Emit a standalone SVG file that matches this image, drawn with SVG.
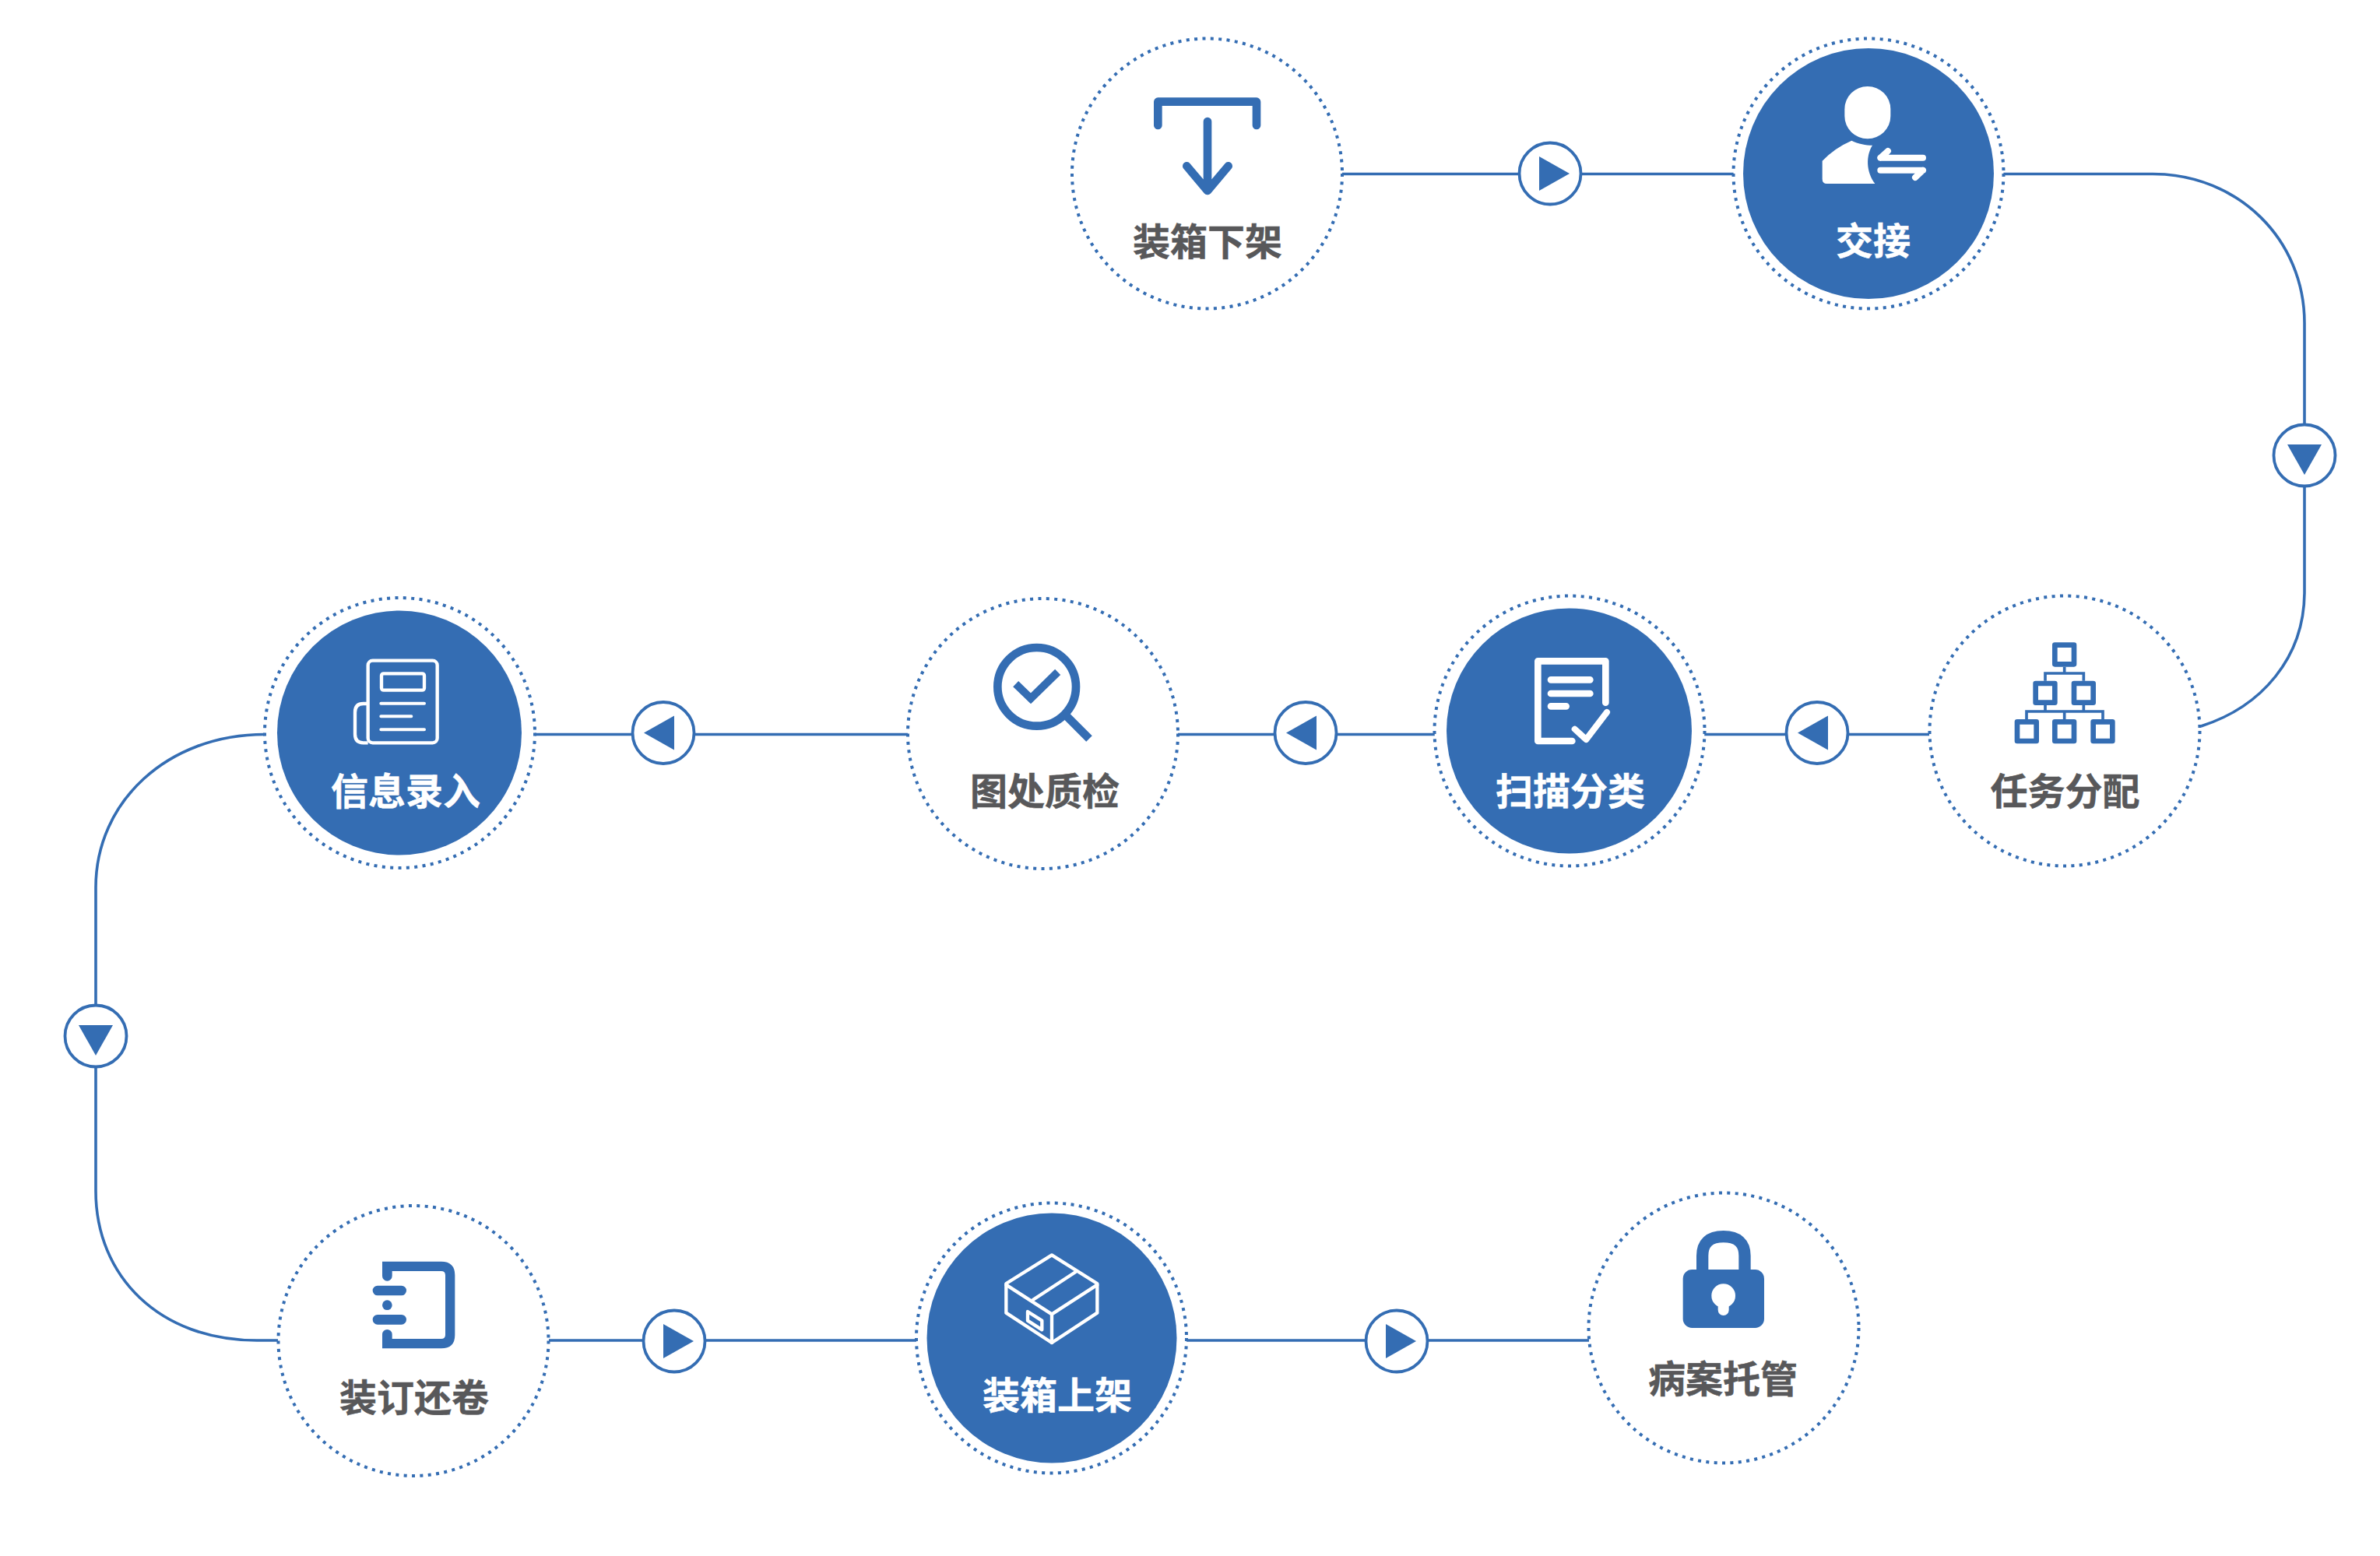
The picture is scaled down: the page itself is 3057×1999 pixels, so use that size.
<svg xmlns="http://www.w3.org/2000/svg" width="3057" height="1999" viewBox="0 0 3057 1999">
<style>
.ring{fill:#fff;stroke:#346db3;stroke-width:4;stroke-dasharray:4 6.4}
.disc{fill:#346db3}
.lbl{font-family:"Noto Sans CJK SC","Noto Sans",sans-serif;font-weight:700;font-size:48px;text-anchor:middle;fill:#58585a;stroke:#58585a;stroke-width:.5}
.lbl.w{fill:#fff;stroke:#fff}
.wire{fill:none;stroke:#346db3;stroke-width:3.6}
.ib{fill:none;stroke:#346db3}
.iw{fill:none;stroke:#fff}
.rnd{stroke-linecap:round;stroke-linejoin:round}
</style>
<defs>
<g id="btn"><circle r="39.5" fill="#fff" stroke="#346db3" stroke-width="3.8"/><path d="M-14,-22 L25,0 L-14,22 Z" fill="#346db3"/></g>
</defs>
<g id="connectors">
<path class="wire" d="M1724,223.500H2227"/>
<path class="wire" d="M2573,223.500H2765C2875,223.500 2960,308 2960,415V760C2960,845 2905,908 2827,933"/>
<path class="wire" d="M2478,943.500H2189"/>
<path class="wire" d="M1843,943.500H1513"/>
<path class="wire" d="M1166,943.500H687"/>
<path class="wire" d="M340,943.500C215,943.500 123,1030 123,1140V1530C123,1640 205,1722 330,1722H357"/>
<path class="wire" d="M705,1722H1177"/>
<path class="wire" d="M1524,1722H2041"/>
<use href="#btn" x="1991" y="223"/>
<use href="#btn" transform="translate(2960 585) rotate(90)"/>
<use href="#btn" transform="translate(2334 941.500) rotate(180)"/>
<use href="#btn" transform="translate(1677 941.500) rotate(180)"/>
<use href="#btn" transform="translate(852 941.500) rotate(180)"/>
<use href="#btn" transform="translate(123 1331) rotate(90)"/>
<use href="#btn" x="866" y="1723"/>
<use href="#btn" x="1794" y="1723"/>
</g>
<g id="n1">
<circle class="ring" cx="1550.500" cy="223" r="173.500"/>
<g transform="translate(1360 30) scale(.33333)">
<path class="ib rnd" stroke-width="32" d="M382,393V302H762V393"/>
<path class="ib rnd" stroke-width="32" d="M573,378V640M493,550L573,645L653,550"/>
</g>
<text class="lbl" x="1551" y="328">装箱下架</text>
</g>
<g id="n2">
<circle class="ring" cx="2400" cy="223" r="173.500"/>
<circle class="disc" cx="2400" cy="223" r="161"/>
<g transform="translate(2210 30) scale(.33333)">
<rect x="478" y="243" width="177" height="202" rx="88" fill="#fff"/>
<path fill="#fff" d="M505,452C530,465 560,470 585,470C560,510 560,570 595,618H410Q392,618 392,600V530Q440,480 505,452Z"/>
<path class="iw rnd" stroke-width="24" d="M616,518H780M616,518L645,492M780,566H616M780,566L750,594"/>
</g>
<text class="lbl w" x="2406" y="327">交接</text>
</g>
<g id="n3">
<circle class="ring" cx="2652" cy="939" r="173.500"/>
<g transform="translate(2460 750) scale(.33333)">
<g fill="none" stroke="#346db3" stroke-width="20" stroke-linejoin="round">
<rect x="538" y="236" width="74" height="74"/>
<rect x="464" y="384" width="74" height="74"/>
<rect x="612" y="384" width="74" height="74"/>
<rect x="393" y="532" width="74" height="74"/>
<rect x="538" y="532" width="74" height="74"/>
<rect x="686" y="532" width="74" height="74"/>
</g>
<path class="ib" stroke-width="11" d="M575,320V345M501,374V345H649V374M501,468V492M649,468V492M429,522V492H723V522M575,492V522"/>
</g>
<text class="lbl" x="2652.500" y="1034">任务分配</text>
</g>
<g id="n4">
<circle class="ring" cx="2016" cy="939" r="173.500"/>
<circle class="disc" cx="2015.500" cy="939" r="157.500"/>
<g transform="translate(1830 750) scale(.33333)">
<path class="iw rnd" stroke-width="26" d="M568,606H436V298H697V458"/>
<path class="iw rnd" stroke-width="26" d="M486,370H637M486,423H637M486,472H545"/>
<path class="iw rnd" stroke-width="24" d="M578,560L622,600L702,495"/>
</g>
<text class="lbl w" x="2017" y="1034">扫描分类</text>
</g>
<g id="n5">
<circle class="ring" cx="1339.500" cy="942.500" r="173.500"/>
<g transform="translate(1150 750) scale(.33333)">
<circle class="ib" cx="545" cy="397" r="151" stroke-width="32"/>
<path class="ib" stroke-width="32" d="M660,510L747,597"/>
<path class="ib" stroke-width="30" d="M464,386L522,442L626,340"/>
</g>
<text class="lbl" x="1342" y="1034">图处质检</text>
</g>
<g id="n6">
<circle class="ring" cx="513.500" cy="941.500" r="173.500"/>
<circle class="disc" cx="513" cy="941.500" r="157"/>
<g transform="translate(320 750) scale(.33333)">
<rect class="iw" x="458" y="296" width="267" height="317" rx="18" stroke-width="13"/>
<rect class="iw" x="510" y="346" width="165" height="64" rx="8" stroke-width="13"/>
<path class="iw rnd" stroke-width="12" d="M508,461H675M508,511H625M508,562H675"/>
<path class="iw" stroke-width="13" d="M458,462H440Q408,462 408,495V580Q408,613 440,613H458"/>
</g>
<text class="lbl w" x="521" y="1034">信息录入</text>
</g>
<g id="n7">
<circle class="ring" cx="531" cy="1722.500" r="173.500"/>
<g transform="translate(340 1530) scale(.33333)">
<path fill="#346db3" d="M453,272H680Q733,272 733,325V555Q733,607 680,607H453V553A19,19 0 0 1 491,553V570H680Q696,570 696,555V325Q696,309 680,309H491V328A19,19 0 0 1 453,328Z"/>
<path class="ib rnd" stroke-width="38" d="M435,384H527M435,496H527"/>
<circle cx="472" cy="440" r="19" fill="#346db3"/>
</g>
<text class="lbl" x="532" y="1813">装订还卷</text>
</g>
<g id="n8">
<circle class="ring" cx="1350.500" cy="1719" r="173.500"/>
<circle class="disc" cx="1351" cy="1719" r="160.500"/>
<g transform="translate(1170 1530) scale(.33333)">
<g class="iw rnd" stroke-width="13">
<path d="M543,247L718,357V470L543,585L367,470V357Z"/>
<path d="M367,362L543,475L718,362M543,475V585M635,312L470,420"/>
<path d="M450,465L505,500V535L450,500Z"/>
</g>
</g>
<text class="lbl w" x="1358" y="1810">装箱上架</text>
</g>
<g id="n9">
<circle class="ring" cx="2214" cy="1706" r="173.500"/>
<g transform="translate(2020 1510) scale(.33333)">
<path class="ib" stroke-width="46" d="M500,370V310Q500,236 581,236Q663,236 663,310V370"/>
<rect x="425" y="363" width="313" height="225" rx="35" fill="#346db3"/>
<circle cx="581" cy="464" r="46" fill="#fff"/>
<path d="M560,490H602V519A21,21 0 0 1 560,519Z" fill="#fff"/>
</g>
<text class="lbl" x="2213" y="1789">病案托管</text>
</g>
</svg>
